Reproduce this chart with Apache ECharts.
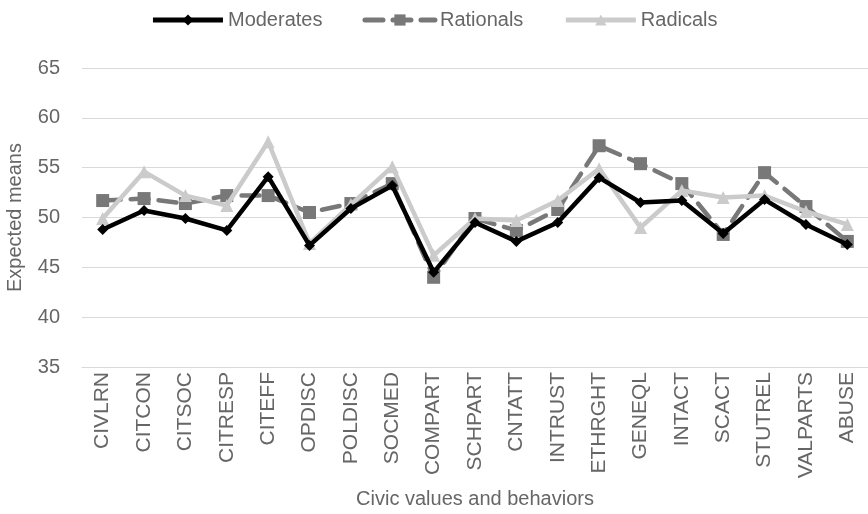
<!DOCTYPE html>
<html><head><meta charset="utf-8">
<script src="https://cdn.jsdelivr.net/npm/echarts@6/dist/echarts.min.js"></script>
<style>html,body{margin:0;padding:0;background:#fff}#c{width:868px;height:514px}</style>
</head><body><div id="c"></div>
<script>
var categories = ["CIVLRN","CITCON","CITSOC","CITRESP","CITEFF","OPDISC","POLDISC","SOCMED","COMPART","SCHPART","CNTATT","INTRUST","ETHRGHT","GENEQL","INTACT","SCACT","STUTREL","VALPARTS","ABUSE"];
var moderates = [48.8,50.7,49.9,48.7,54.1,47.2,50.9,53.2,44.5,49.5,47.6,49.5,54.0,51.5,51.7,48.4,51.8,49.3,47.3];
var rationals = [51.7,51.9,51.4,52.2,52.2,50.5,51.4,53.4,44.0,49.9,48.7,50.8,57.2,55.4,53.4,48.3,54.5,51.1,47.6];
var radicals  = [49.9,54.6,52.2,51.2,57.6,47.4,51.3,55.1,46.2,49.9,49.7,51.7,54.9,49.0,52.7,52.0,52.2,50.6,49.3];
var yTicks = {min:35, max:65, interval:5};

var font = '"Liberation Sans", Arial, sans-serif';
var txt = '#666666';
var chart = echarts.init(document.getElementById('c'), null, {renderer:'canvas'});
chart.setOption({
  animation:false,
  backgroundColor:'#fff',
  textStyle:{fontFamily:font},
  legend:{
    top:5, left:'center', itemWidth:70, itemHeight:14, itemGap:40,
    textStyle:{fontSize:20, color:txt, fontFamily:font},
    lineStyle:{width:5},
    data:['Moderates','Rationals','Radicals']
  },
  grid:{left:82, right:0, top:68, bottom:147, containLabel:false, outerBoundsMode:'none'},
  xAxis:{
    type:'category', data:categories, boundaryGap:true,
    axisLine:{show:true, lineStyle:{color:'#d9d9d9', width:1}},
    axisTick:{show:false},
    axisLabel:{rotate:90, fontSize:21, color:txt, margin:5, fontFamily:font, interval:0},
    name:'Civic values and behaviors', nameLocation:'middle', nameGap:122,
    nameTextStyle:{fontSize:20, color:txt, fontFamily:font}
  },
  yAxis:{
    type:'value', min:yTicks.min, max:yTicks.max, interval:yTicks.interval,
    axisLine:{show:false}, axisTick:{show:false},
    splitLine:{lineStyle:{color:'#d9d9d9', width:1}},
    axisLabel:{fontSize:20, color:txt, margin:22, fontFamily:font},
    name:'Expected means', nameLocation:'middle', nameGap:57,
    nameTextStyle:{fontSize:20, color:txt, fontFamily:font}
  },
  series:[
    {name:'Moderates', type:'line', data:moderates, symbol:'diamond', symbolSize:11,
     lineStyle:{color:'#000', width:4.5}, itemStyle:{color:'#000'}, z:5},
    {name:'Rationals', type:'line', data:rationals, symbol:'rect', symbolSize:13,
     lineStyle:{color:'#787878', width:4.5, type:[18,10], cap:'round'}, itemStyle:{color:'#787878'}, z:3},
    {name:'Radicals', type:'line', data:radicals, symbol:'triangle', symbolSize:13,
     lineStyle:{color:'#cbcbcb', width:4.5}, itemStyle:{color:'#cbcbcb'}, z:4}
  ]
});
</script></body></html>
